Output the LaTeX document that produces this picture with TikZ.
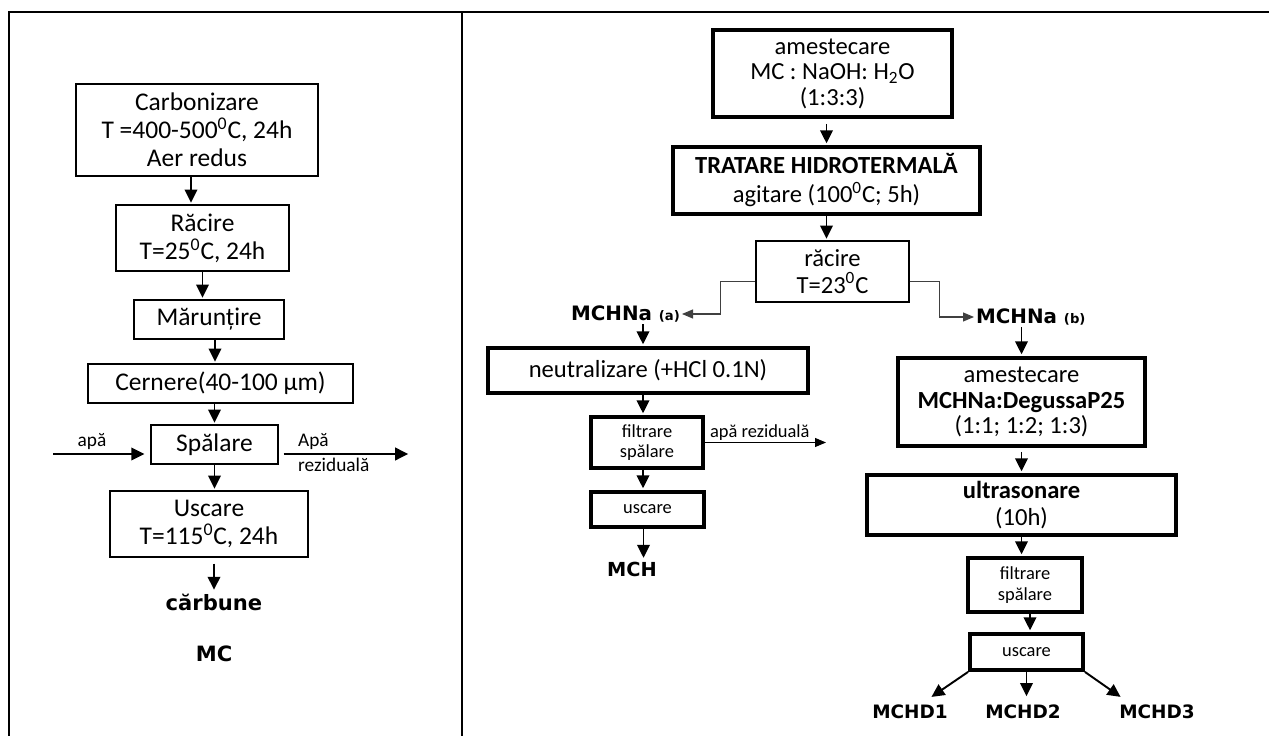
\documentclass[tikz,border=0pt]{standalone}
\usepackage{fontspec}
\setmainfont{Carlito}
\newfontfamily\verd{DejaVu Sans}
\usetikzlibrary{arrows.meta,positioning}

\begin{document}
\begin{tikzpicture}[x=0.02cm,y=-0.02cm,
  thinbox/.style={draw,line width=0.7pt,inner sep=0pt,align=center,font=\fontsize{14.5}{16}\selectfont},
  thickbox/.style={draw,line width=2.2pt,inner sep=0pt,align=center,font=\fontsize{14}{14.5}\selectfont},
  smallbox/.style={thickbox,font=\fontsize{10.5}{11.5}\selectfont},
  arr/.style={-{Triangle[length=2.6mm,width=2.5mm]},line width=1.1pt,shorten >=1pt},
  tarr/.style={-{Triangle[length=2.2mm,width=1.8mm]},line width=0.6pt},
  prod/.style={font=\verd\bfseries\fontsize{12}{14}\selectfont,inner sep=1pt},
  lbl/.style={font=\fontsize{11}{12}\selectfont,inner sep=1pt}]
\useasboundingbox (0,0) rectangle (1269,736);

% table frame
\draw [line width=1.1pt] (9,736) -- (9,12) -- (462,12);
\draw [line width=1.1pt] (462,12) -- (462,736);
\draw [line width=0.8pt] (462,12) -- (1207,12);
\draw [line width=1.6pt] (1207,12) -- (1269,12);

% left column
\node [thinbox,minimum width=4.84cm,minimum height=1.84cm] (carb) at (197,130) {Carbonizare\\T =400-500\textsuperscript{0}C, 24h\\Aer redus};
\node [thinbox,minimum width=3.46cm,minimum height=1.32cm] (rac) at (202.5,238) {Răcire\\T=25\textsuperscript{0}C, 24h};
\node [thinbox,minimum width=3.0cm,minimum height=0.78cm] (mar) at (209,319.5) {Mărunțire};
\node [thinbox,minimum width=5.3cm,minimum height=0.78cm] (cern) at (220.5,383.5) {Cernere(40-100 µm)};
\node [thinbox,minimum width=2.54cm,minimum height=0.78cm] (spal) at (214.5,444.5) {Spălare};
\node [thinbox,minimum width=3.96cm,minimum height=1.32cm] (usc) at (209,524) {Uscare\\T=115\textsuperscript{0}C, 24h};
\node [prod] (carbune) at (214,602) {cărbune};
\node [prod] (mc) at (214,654) {MC};

\draw [arr] ([xshift=-0.12cm]carb.south) -- ([xshift=-0.12cm]carb.south |- rac.north);
\draw [arr] (rac.south) -- (rac.south |- mar.north);
\draw [arr] ([xshift=0.12cm]mar.south) -- ([xshift=0.12cm]mar.south |- cern.north);
\draw [arr] (cern.south -| spal.north) -- (spal.north);
\draw [arr] (spal.south) -- (spal.south |- usc.north);
\draw [arr] ([yshift=-0.12cm]usc.south -| carbune.north) -- (carbune.north);

\coordinate (apain) at (53,454);
\coordinate (apaout) at (410,454);
\draw [arr,shorten >=0.12cm] (apain) -- (apain -| spal.west);
\node [lbl,anchor=south] (apa) at (92,452) {apă};
\draw [arr,shorten <=0.1cm] (apaout -| spal.east) -- (apaout);
\node [lbl,anchor=south west] (apa2) at (296,452) {Apă};
\node [lbl,anchor=north west] (rez) at (296,456) {reziduală};

% right part
\node [thickbox,minimum width=4.78cm,minimum height=1.74cm] (mix) at (832.5,73.5) {amestecare\\MC : NaOH: H\textsubscript{2}O\\(1:3:3)};
\node [thickbox,minimum width=6.14cm,minimum height=1.34cm,font=\fontsize{14}{16.5}\selectfont] (hidro) at (826.5,180.5) {\textbf{TRATARE HIDROTERMALĂ}\\agitare (100\textsuperscript{0}C; 5h)};
\node [thinbox,minimum width=3.06cm,minimum height=1.22cm,font=\fontsize{14}{15}\selectfont] (rac2) at (832.5,271.5) {răcire\\T=23\textsuperscript{0}C};
\draw [arr] ([yshift=-0.1cm]hidro.north |- mix.south) -- (hidro.north);
\draw [arr] (hidro.south) -- (hidro.south |- rac2.north);

\node [prod,anchor=east,font=\verd\bfseries\fontsize{11.3}{13}\selectfont] (mchnaA) at (682,314) {MCHNa {\fontsize{7.5}{9}\selectfont (a)}};
\node [prod,anchor=west,font=\verd\bfseries\fontsize{11.3}{13}\selectfont] (mchnaB) at (974,317) {MCHNa {\fontsize{7.5}{9}\selectfont (b)}};
\draw [tarr,black!75] ([yshift=-0.2cm]rac2.west) -- ++(-0.7cm,0) |- (mchnaA.east);
\draw [tarr,black!75] ([yshift=-0.2cm]rac2.east) -- ++(0.6cm,0) |- (mchnaB.west);

% branch a
\node [thickbox,minimum width=6.4cm,minimum height=0.9cm] (neut) at (648,370.5) {neutralizare (+HCl 0.1N)};
\node [smallbox,minimum width=2.24cm,minimum height=1.02cm] (filt1) at (647,442.5) {filtrare\\spălare};
\node [smallbox,minimum width=2.26cm,minimum height=0.7cm] (usc1) at (647.5,509.5) {uscare};
\node [prod,font=\verd\bfseries\fontsize{11}{13}\selectfont] (mch) at (632,569) {MCH};
\draw [arr] ([xshift=-0.1cm]neut.north |- mchnaA.south) -- ([xshift=-0.1cm]neut.north);
\draw [arr] ([xshift=-0.1cm]neut.south) -- ([xshift=-0.1cm]neut.south |- filt1.north);
\draw [arr] ([xshift=-0.08cm]filt1.south) -- ([xshift=-0.08cm]filt1.south |- usc1.north);
\draw [arr] ([xshift=-0.08cm]usc1.south) -- ([xshift=-0.08cm]usc1.south |- mch.north);
\coordinate (rez1) at (826,442.5);
\draw [tarr] (filt1.east) -- (rez1);
\node [anchor=south west,font=\fontsize{10.5}{12}\selectfont,inner sep=1pt] (rez1lbl) at ([xshift=0.06cm]filt1.east) {apă reziduală};

% branch b
\node [thickbox,minimum width=4.94cm,minimum height=1.76cm] (mix2) at (1021.5,402) {amestecare\\\textbf{MCHNa:DegussaP25}\\(1:1; 1:2; 1:3)};
\node [thickbox,minimum width=6.18cm,minimum height=1.2cm,font=\fontsize{14}{15.5}\selectfont] (ultra) at (1021.5,505) {\textbf{ultrasonare}\\(10h)};
\node [smallbox,minimum width=2.28cm,minimum height=1.08cm] (filt2) at (1025,585) {filtrare\\spălare};
\node [smallbox,minimum width=2.26cm,minimum height=0.72cm] (usc2) at (1026.5,652) {uscare};
\draw [arr] (mix2.north |- mchnaB.south) -- (mix2.north);
\draw [arr] ([yshift=-0.08cm]mix2.south) -- (ultra.north);
\draw [arr] (ultra.south) -- (ultra.south |- filt2.north);
\draw [arr] ([xshift=0.1cm]filt2.south) -- ([xshift=0.1cm]filt2.south |- usc2.north);

\node [prod,font=\verd\bfseries\fontsize{10.5}{12}\selectfont] (mchd1) at (910,712) {MCHD1};
\node [prod,font=\verd\bfseries\fontsize{10.5}{12}\selectfont] (mchd2) at (1023,712) {MCHD2};
\node [prod,font=\verd\bfseries\fontsize{10.5}{12}\selectfont] (mchd3) at (1157,712) {MCHD3};
\draw [arr] (usc2.south west) -- ([xshift=0.4cm,yshift=0.1cm]mchd1.north);
\draw [arr] (usc2.south) -- ([yshift=0.1cm]usc2.south |- mchd2.north);
\draw [arr] (usc2.south east) -- ([xshift=-0.7cm,yshift=0.1cm]mchd3.north);
\end{tikzpicture}
\end{document}
